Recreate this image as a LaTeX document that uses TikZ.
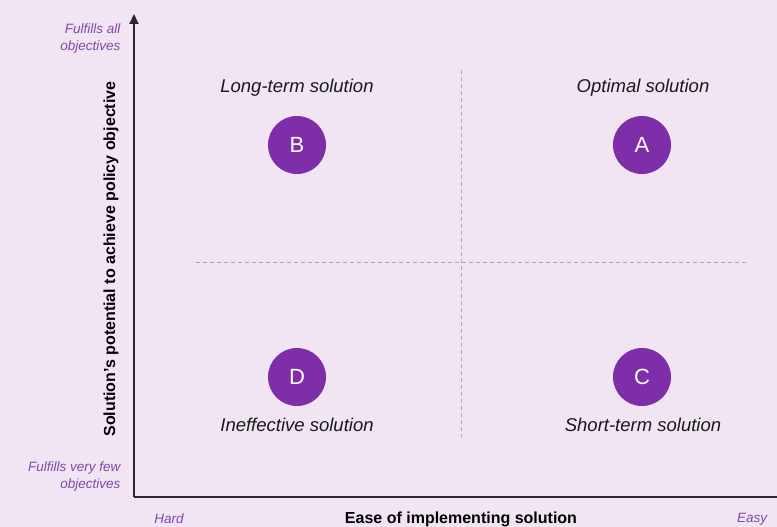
\documentclass[tikz,border=0pt]{standalone}
\usepackage{fontspec}
\setmainfont{Liberation Sans}
\usetikzlibrary{arrows.meta}
\definecolor{bgcol}{HTML}{F1E5F3}
\definecolor{circcol}{HTML}{7D2EA8}
\definecolor{labcol}{HTML}{8048A8}
\definecolor{gridcol}{HTML}{B3A5B8}
\definecolor{axiscol}{HTML}{2A2530}
\begin{document}
\begin{tikzpicture}[x=1pt,y=-1pt,
  quad/.style={circle,fill=circcol,minimum size=58pt,inner sep=0pt,text=white,font=\fontsize{22}{24}\selectfont},
  qlabel/.style={font=\fontsize{18.5}{20}\selectfont\itshape,text=black!90},
  axlabel/.style={font=\fontsize{16}{18}\selectfont\bfseries,text=black},
  endlabel/.style={font=\fontsize{13.5}{17}\selectfont\itshape,text=labcol,align=right},
  gridline/.style={draw=gridcol,line width=0.8pt,dash pattern=on 4pt off 3pt},
  axisline/.style={draw=axiscol,line width=2pt}]
\fill[bgcol] (0,0) rectangle (777,527);
\useasboundingbox (0,0) rectangle (777,527);
% grid
\coordinate (vt) at (461,70);
\coordinate (vb) at (461,437);
\coordinate (hl) at (196,262);
\coordinate (hr) at (748,262);
\draw[gridline] (vt) -- (vb);
\draw[gridline] (hl) -- (hr);
% axes
\coordinate (o) at (134,497);
\coordinate (ytop) at (134,14);
\coordinate (xend) at (778,497);
\draw[axisline,-{Triangle[length=10pt,width=9pt]}] (o) -- (ytop);
\draw[axisline] (o) -- (xend);
% circles
\node[quad] (B) at (297,145) {B};
\node[quad] (A) at (642,145) {A};
\node[quad] (D) at (297,377) {D};
\node[quad] (C) at (642,377) {C};
% quadrant labels
\node[qlabel] (lB) at (297,88) {Long-term solution};
\node[qlabel] (lA) at (643,88) {Optimal solution};
\node[qlabel] (lD) at (297,425) {Ineffective solution};
\node[qlabel] (lC) at (643,425) {Short-term solution};
% axis labels
\node[axlabel] (xl) at (461,519) {Ease of implementing solution};
\node[axlabel,rotate=90] (yl) at (111,259) {Solution's potential to achieve policy objective};
\node[endlabel,anchor=east] (top) at (124,39) {Fulfills all\\objectives};
\node[endlabel,anchor=east] (bot) at (124,477) {Fulfills very few\\objectives};
\node[endlabel] (hard) at (169,519) {Hard};
\node[endlabel] (easy) at (752,519) {Easy};
\end{tikzpicture}
\end{document}
